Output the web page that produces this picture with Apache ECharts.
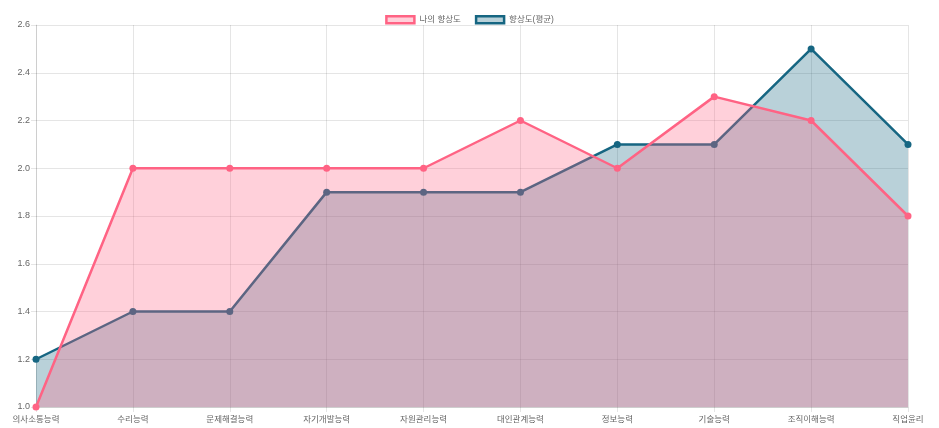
<!DOCTYPE html>
<html><head><meta charset="utf-8">
<script src="https://cdn.jsdelivr.net/npm/echarts@6/dist/echarts.min.js"></script>
<style>html,body{margin:0;padding:0;background:#fff}#c{width:939px;height:428px}</style>
</head><body><div id="c"></div>
<script>
const categories = ['의사소통능력','수리능력','문제해결능력','자기개발능력','자원관리능력','대인관계능력','정보능력','기술능력','조직이해능력','직업윤리'];
const myValues = [1.0, 2.0, 2.0, 2.0, 2.0, 2.2, 2.0, 2.3, 2.2, 1.8];
const avgValues = [1.2, 1.4, 1.4, 1.9, 1.9, 1.9, 2.1, 2.1, 2.5, 2.1];
const seriesNames = ['나의 향상도', '향상도(평균)'];

const FONT = '"Liberation Sans", Arial, "Noto Sans CJK KR", sans-serif';
const pink = 'rgb(255,99,132)';
const teal = 'rgb(22,102,130)';
const grid = 'rgba(0,0,0,0.1)';

const chart = echarts.init(document.getElementById('c'), null, {renderer:'canvas'});
chart.setOption({
  animation: false,
  textStyle: {fontFamily: FONT},
  legend: {
    top: 10, left: 'center',
    itemWidth: 28, itemHeight: 7, itemGap: 14,
    icon: 'rect',
    textStyle: {fontSize: 8.5, color: '#666', fontFamily: FONT},
    data: [
      {name: seriesNames[0], itemStyle: {color: 'rgba(255,99,132,0.3)', borderColor: pink, borderWidth: 2.5}},
      {name: seriesNames[1], itemStyle: {color: 'rgba(22,102,130,0.3)', borderColor: teal, borderWidth: 2.5}}
    ]
  },
  grid: {left: 36, right: 31, top: 25, bottom: 21, containLabel: false},
  xAxis: {
    type: 'category', data: categories, boundaryGap: false,
    axisLine: {show: true, lineStyle: {color: grid}},
    axisTick: {show: true, length: 5, alignWithLabel: true, lineStyle: {color: grid}},
    axisLabel: {fontSize: 8.5, color: '#666', margin: 8, interval: 0, fontFamily: FONT},
    splitLine: {show: true, lineStyle: {color: grid}}
  },
  yAxis: {
    type: 'value', min: 1.0, max: 2.6, interval: 0.2,
    axisLine: {show: true, lineStyle: {color: grid}},
    axisTick: {show: true, length: 5, lineStyle: {color: grid}},
    axisLabel: {fontSize: 9, color: '#666', margin: 6, fontFamily: FONT, formatter: v => v.toFixed(1)},
    splitLine: {show: true, lineStyle: {color: grid}}
  },
  series: [
    {
      name: seriesNames[1], type: 'line', data: avgValues, z: 2,
      symbol: 'circle', symbolSize: 7, showSymbol: true,
      lineStyle: {color: teal, width: 2.5},
      itemStyle: {color: teal},
      areaStyle: {color: teal, opacity: 0.3, origin: 'start'}
    },
    {
      name: seriesNames[0], type: 'line', data: myValues, z: 3,
      symbol: 'circle', symbolSize: 7, showSymbol: true,
      lineStyle: {color: pink, width: 2.5},
      itemStyle: {color: pink},
      areaStyle: {color: pink, opacity: 0.3, origin: 'start'}
    }
  ]
});
</script></body></html>
